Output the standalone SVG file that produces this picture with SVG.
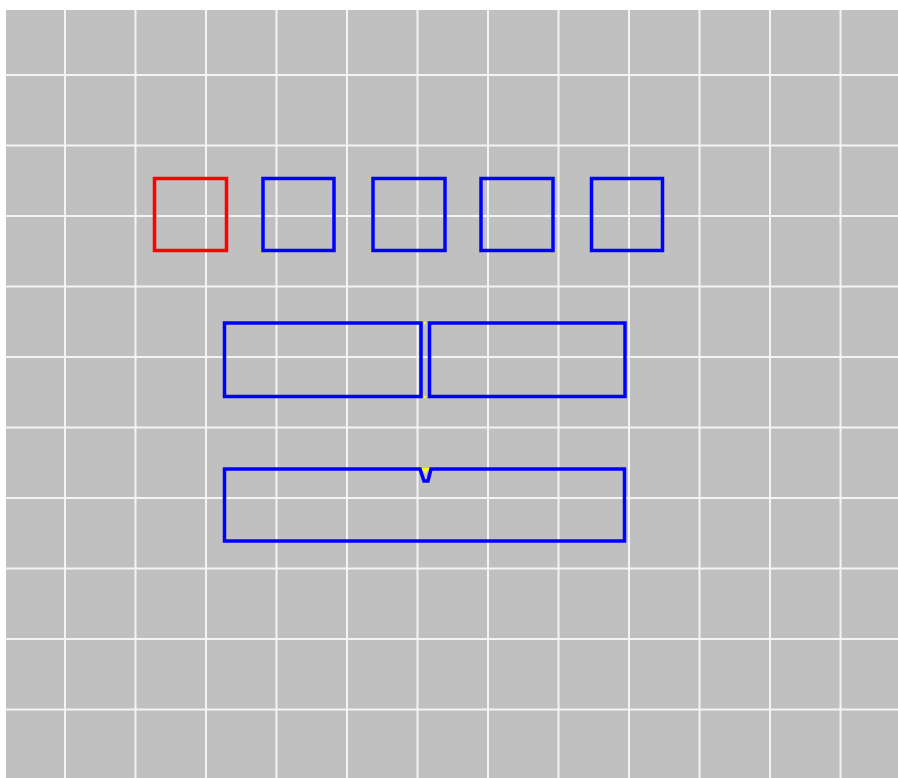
<svg xmlns="http://www.w3.org/2000/svg" width="898" height="778" viewBox="0 0 898 778">
<style>
.grid line{stroke:#f4f4f4;stroke-width:2}
.box{fill:none;stroke:#0000ff;stroke-width:3.5}
.red{fill:none;stroke:#ff0000;stroke-width:3.5}
</style>
<rect x="0" y="0" width="898" height="778" fill="#ffffff"/>
<rect x="6" y="10" width="892" height="768" fill="#c0c0c0"/>
<g class="grid" id="grid">
<line x1="65" y1="10" x2="65" y2="778"/>
<line x1="135.5" y1="10" x2="135.5" y2="778"/>
<line x1="206" y1="10" x2="206" y2="778"/>
<line x1="276.5" y1="10" x2="276.5" y2="778"/>
<line x1="347" y1="10" x2="347" y2="778"/>
<line x1="417.5" y1="10" x2="417.5" y2="778"/>
<line x1="488" y1="10" x2="488" y2="778"/>
<line x1="558.5" y1="10" x2="558.5" y2="778"/>
<line x1="629" y1="10" x2="629" y2="778"/>
<line x1="699.5" y1="10" x2="699.5" y2="778"/>
<line x1="770" y1="10" x2="770" y2="778"/>
<line x1="840.5" y1="10" x2="840.5" y2="778"/>
<line x1="6" y1="75" x2="898" y2="75"/>
<line x1="6" y1="145.5" x2="898" y2="145.5"/>
<line x1="6" y1="216" x2="898" y2="216"/>
<line x1="6" y1="286.5" x2="898" y2="286.5"/>
<line x1="6" y1="357" x2="898" y2="357"/>
<line x1="6" y1="427.5" x2="898" y2="427.5"/>
<line x1="6" y1="498" x2="898" y2="498"/>
<line x1="6" y1="568.5" x2="898" y2="568.5"/>
<line x1="6" y1="639" x2="898" y2="639"/>
<line x1="6" y1="709.5" x2="898" y2="709.5"/>
</g>
<g id="box1"><rect class="red" x="154.5" y="178.5" width="72" height="72"/></g>
<g id="box2"><rect class="box" x="263" y="178.5" width="71" height="72"/></g>
<g id="box3"><rect class="box" x="373" y="178.5" width="72" height="72"/></g>
<g id="box4"><rect class="box" x="481" y="178.5" width="72" height="72"/></g>
<g id="box5"><rect class="box" x="591.5" y="178.5" width="71" height="72"/></g>
<g id="rect1"><rect class="box" x="224.5" y="323" width="196.5" height="73.5"/></g>
<g id="rect2"><rect class="box" x="429.5" y="323" width="195.5" height="73.5"/></g>
<g id="dots">
<circle cx="425" cy="323" r="1.2" fill="#ffff00"/>
<circle cx="425" cy="397" r="1.2" fill="#ffff00"/>
</g>
<g id="rect3">
<polygon points="421,468 430,468 425.5,474" fill="#ffff00"/>
<path class="box" d="M224.5,469 H420 L424,481 H428 L431,469 H624.5 V541 H224.5 Z"/>
</g>
</svg>
